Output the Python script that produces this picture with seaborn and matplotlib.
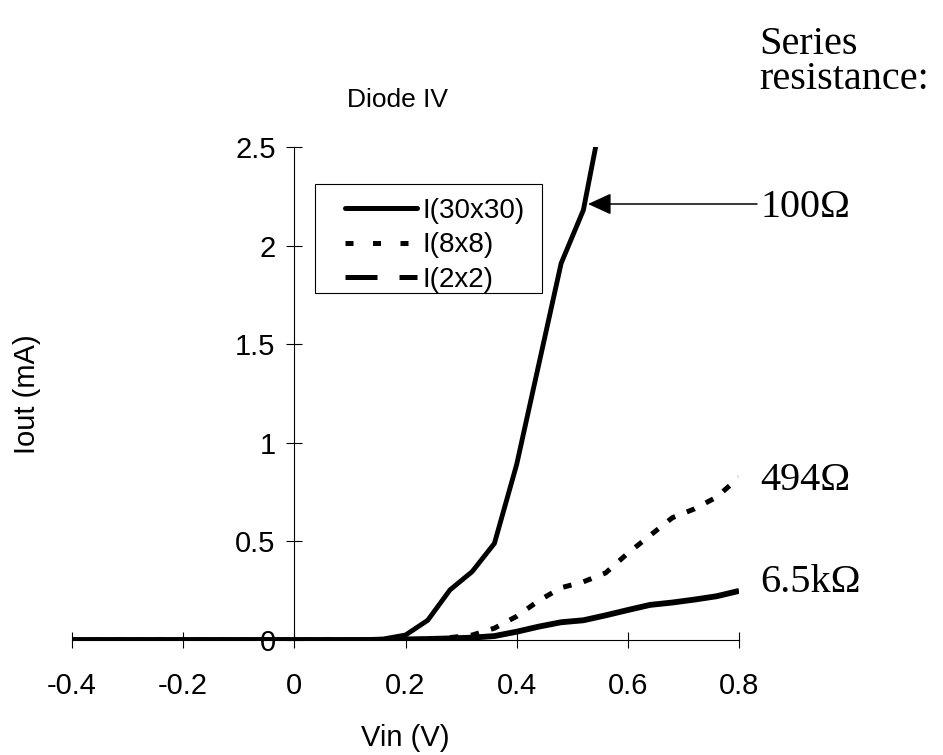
import matplotlib
matplotlib.use("Agg")
import matplotlib.pyplot as plt
from matplotlib.lines import Line2D
from matplotlib.patches import Rectangle
import seaborn as sns
import pandas as pd
import numpy as np

# ---- data ----
vin = [-0.40, -0.36, -0.32, -0.28, -0.24, -0.20, -0.16, -0.12, -0.08, -0.04,
       0.00, 0.04, 0.08, 0.12, 0.16, 0.20, 0.24, 0.28, 0.32, 0.36,
       0.40, 0.44, 0.48, 0.52, 0.56, 0.60, 0.64, 0.68, 0.72, 0.76, 0.80]
i_30x30 = [0, 0, 0, 0, 0, 0, 0, 0, 0, 0,
           0, 0, 0, 0.001, 0.005, 0.025, 0.10, 0.254, 0.347, 0.49,
           0.89, 1.40, 1.91, 2.18, 2.76, np.nan, np.nan, np.nan, np.nan, np.nan, np.nan]
i_8x8 = [0, 0, 0, 0, 0, 0, 0, 0, 0, 0,
         0, 0, 0, 0, 0, 0, 0.004, 0.012, 0.025, 0.06,
         0.12, 0.20, 0.265, 0.295, 0.34, 0.44, 0.53, 0.62, 0.665, 0.725, 0.825]
i_2x2 = [0, 0, 0, 0, 0, 0, 0, 0, 0, 0,
         0, 0, 0, 0, 0, 0.003, 0.005, 0.008, 0.012, 0.02,
         0.042, 0.068, 0.09, 0.10, 0.125, 0.152, 0.178, 0.19, 0.205, 0.222, 0.249]
series_names = ["I(30x30)", "I(8x8)", "I(2x2)"]
resistances = ["100\u03a9", "494\u03a9", "6.5k\u03a9"]
x_ticks = [-0.4, -0.2, 0, 0.2, 0.4, 0.6, 0.8]
y_ticks = [0, 0.5, 1, 1.5, 2, 2.5]

df = pd.concat([
    pd.DataFrame({"Vin": vin, "I": i_30x30, "series": series_names[0]}),
    pd.DataFrame({"Vin": vin, "I": i_8x8, "series": series_names[1]}),
    pd.DataFrame({"Vin": vin, "I": i_2x2, "series": series_names[2]}),
]).dropna()

sns.set_theme(style="white")
plt.rcParams["font.family"] = ["Liberation Sans", "DejaVu Sans"]
plt.rcParams["axes.unicode_minus"] = False
plt.rcParams["text.color"] = "black"
plt.rcParams["axes.labelcolor"] = "black"
plt.rcParams["xtick.color"] = "black"
plt.rcParams["ytick.color"] = "black"

W, H = 943, 755
fig = plt.figure(figsize=(W / 100, H / 100), dpi=100)
fig.patch.set_facecolor("white")

def fx(px):
    return px / W

def fy(py):
    return 1 - py / H

ax = fig.add_axes([fx(72), fy(640), fx(739) - fx(72), fy(147) - fy(640)])
ax.set_facecolor("white")

styles = {
    series_names[0]: dict(lw=3.5, ls="-"),
    series_names[1]: dict(lw=3.6, ls=(0, (1.7, 2.5))),
    series_names[2]: dict(lw=4.2, ls="-"),
}
for name in series_names:
    sub = df[df["series"] == name]
    sns.lineplot(data=sub, x="Vin", y="I", ax=ax, color="black",
                 linewidth=styles[name]["lw"], linestyle=styles[name]["ls"],
                 legend=False, estimator=None, sort=False)
for line in ax.get_lines():
    line.set_dash_capstyle("butt")
    line.set_solid_capstyle("butt")

ax.set_xlim(-0.4, 0.8)
ax.set_ylim(0, 2.5)
ax.set_xticks(x_ticks)
ax.set_yticks(y_ticks)
ax.set_xticklabels([f"{t:g}" for t in x_ticks])
ax.set_yticklabels([f"{t:g}" for t in y_ticks])
ax.set_xlabel("")
ax.set_ylabel("")

for s in ["top", "right"]:
    ax.spines[s].set_visible(False)
ax.spines["left"].set_position(("data", 0))
ax.spines["bottom"].set_position(("data", 0))
for s in ["left", "bottom"]:
    ax.spines[s].set_color("black")
    ax.spines[s].set_linewidth(0.8)
    ax.spines[s].set_zorder(0.5)

ax.tick_params(axis="x", direction="inout", length=12, width=0.8, color="black",
               labelsize=21, pad=17, labelcolor="black", bottom=True)
ax.tick_params(axis="y", direction="inout", length=11, width=0.8, color="black",
               labelsize=21, pad=8, labelcolor="black", left=True)

# title and axis labels
fig.text(fx(347), fy(107), "Diode IV", fontsize=19, ha="left", va="baseline")
fig.text(fx(405), fy(746), "Vin (V)", fontsize=21, ha="center", va="baseline")
fig.text(fx(27), fy(394), "Iout (mA)", fontsize=21, rotation=90,
         ha="center", va="center")

# legend
fig.patches.append(Rectangle((fx(315), fy(293)), fx(542) - fx(315), fy(184) - fy(293),
                             transform=fig.transFigure, fill=False,
                             edgecolor="black", linewidth=0.8))
handles = [
    Line2D([], [], color="black", lw=3.6, ls="-", solid_capstyle="round"),
    Line2D([], [], color="black", lw=3.6, ls=(0, (1.6, 3.9)), dash_capstyle="butt"),
    Line2D([], [], color="black", lw=3.6, ls=(0, (6.4, 4.4)), dash_capstyle="butt"),
]
fig.legend(handles, series_names, loc="upper left",
           bbox_to_anchor=(fx(345), fy(198)), bbox_transform=fig.transFigure,
           frameon=False, fontsize=20, handlelength=2.6, handletextpad=0.18,
           labelspacing=0.3, borderpad=0, borderaxespad=0)

# right-side annotations
serif = ["Liberation Serif", "DejaVu Serif"]
fig.text(fx(759), fy(54), "Series", fontsize=29, family=serif, ha="left", va="baseline")
fig.text(fx(759), fy(89), "resistance:", fontsize=29, family=serif, ha="left", va="baseline")
fig.text(fx(760), fy(217), resistances[0], fontsize=29, family=serif, ha="left", va="baseline")
fig.text(fx(760), fy(490), resistances[1], fontsize=29, family=serif, ha="left", va="baseline")
fig.text(fx(760), fy(592), resistances[2], fontsize=29, family=serif, ha="left", va="baseline")

ax.annotate("", xy=(fx(588), fy(204)), xycoords="figure fraction",
            xytext=(fx(757), fy(204)), textcoords="figure fraction",
            arrowprops=dict(arrowstyle="-|>,head_length=0.72,head_width=0.33",
                            mutation_scale=20, lw=1.1, color="black",
                            shrinkA=0, shrinkB=0))

fig.savefig("out.png", dpi=100, facecolor="white")
